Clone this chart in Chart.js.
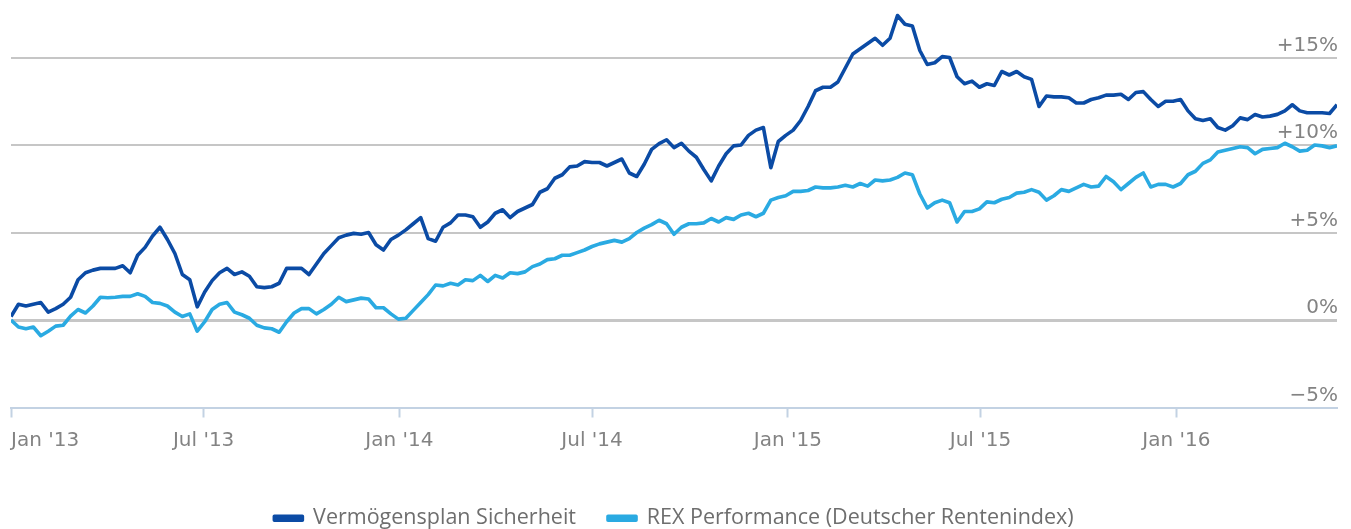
<!DOCTYPE html>
<html>
<head>
<meta charset="utf-8">
<script src="https://cdn.jsdelivr.net/npm/chart.js@4.4.1/dist/chart.umd.min.js"></script>
<style>
	html, body { margin: 0; padding: 0; background: #fff; }
	#wrap { width: 1351px; height: 529px; position: relative; }
</style>
</head>
<body>
<div id="wrap"><canvas id="myChart"></canvas></div>
<script>
// Wochenwerte ab Start (Wertentwicklung in %)
const startDate = '2013-01-01';
const stepDays = 7;

const sicherheit = [
	0.2, 0.9, 0.8, 0.9, 1.0, 0.45, 0.65, 0.9, 1.3, 2.3,
	2.7, 2.85, 2.95, 2.95, 2.95, 3.1, 2.7, 3.7, 4.15, 4.8,
	5.3, 4.6, 3.8, 2.6, 2.3, 0.75, 1.6, 2.25, 2.7, 2.95,
	2.6, 2.75, 2.5, 1.9, 1.85, 1.9, 2.1, 2.95, 2.95, 2.95,
	2.6, 3.2, 3.8, 4.25, 4.7, 4.85, 4.95, 4.9, 5.0, 4.3,
	4.0, 4.6, 4.85, 5.15, 5.5, 5.85, 4.65, 4.5, 5.3, 5.55,
	6.0, 6.0, 5.9, 5.3, 5.6, 6.1, 6.3, 5.85, 6.2, 6.4,
	6.6, 7.3, 7.5, 8.1, 8.3, 8.75, 8.8, 9.05, 9.0, 9.0,
	8.8, 9.0, 9.2, 8.4, 8.2, 8.9, 9.75, 10.08, 10.3, 9.85,
	10.1, 9.65, 9.3, 8.6, 7.95, 8.8, 9.5, 9.95, 10.0, 10.55,
	10.85, 11.0, 8.7, 10.2, 10.55, 10.85, 11.4, 12.2, 13.1, 13.3,
	13.3, 13.6, 14.4, 15.2, 15.5, 15.8, 16.1, 15.7, 16.1, 17.4,
	16.9, 16.8, 15.4, 14.6, 14.7, 15.05, 15.0, 13.9, 13.5, 13.65,
	13.3, 13.5, 13.4, 14.2, 14.0, 14.2, 13.9, 13.75, 12.2, 12.8,
	12.75, 12.75, 12.7, 12.4, 12.4, 12.6, 12.7, 12.85, 12.85, 12.9,
	12.6, 13.0, 13.05, 12.6, 12.2, 12.5, 12.5, 12.6, 11.95, 11.5,
	11.4, 11.5, 11.0, 10.85, 11.1, 11.55, 11.45, 11.74, 11.6, 11.65,
	11.75, 11.95, 12.3, 11.95, 11.84, 11.84, 11.84, 11.8, 12.3
];

const rex = [
	0.0, -0.4, -0.5, -0.4, -0.9, -0.64, -0.35, -0.3, 0.22, 0.6,
	0.4, 0.8, 1.3, 1.27, 1.3, 1.35, 1.35, 1.5, 1.35, 1.0,
	0.95, 0.8, 0.45, 0.2, 0.35, -0.64, -0.1, 0.6, 0.9, 1.0,
	0.45, 0.3, 0.1, -0.3, -0.45, -0.5, -0.7, -0.1, 0.4, 0.65,
	0.65, 0.35, 0.6, 0.9, 1.3, 1.05, 1.15, 1.25, 1.2, 0.7,
	0.7, 0.35, 0.05, 0.1, 0.55, 1.0, 1.45, 2.0, 1.95, 2.1,
	2.0, 2.3, 2.25, 2.55, 2.2, 2.55, 2.4, 2.7, 2.65, 2.75,
	3.05, 3.2, 3.45, 3.5, 3.7, 3.7, 3.85, 4.0, 4.2, 4.35,
	4.45, 4.55, 4.45, 4.65, 5.0, 5.25, 5.45, 5.7, 5.5, 4.9,
	5.3, 5.5, 5.5, 5.55, 5.8, 5.6, 5.85, 5.75, 6.0, 6.1,
	5.9, 6.1, 6.85, 7.0, 7.1, 7.35, 7.35, 7.4, 7.6, 7.55,
	7.55, 7.6, 7.7, 7.6, 7.8, 7.65, 8.0, 7.95, 8.0, 8.15,
	8.4, 8.3, 7.2, 6.4, 6.7, 6.85, 6.7, 5.6, 6.2, 6.2,
	6.35, 6.75, 6.7, 6.9, 7.0, 7.25, 7.3, 7.45, 7.3, 6.85,
	7.1, 7.45, 7.35, 7.55, 7.75, 7.6, 7.65, 8.2, 7.9, 7.45,
	7.8, 8.15, 8.4, 7.6, 7.75, 7.75, 7.6, 7.8, 8.3, 8.5,
	8.95, 9.15, 9.6, 9.7, 9.8, 9.9, 9.85, 9.5, 9.75, 9.8,
	9.85, 10.1, 9.9, 9.65, 9.7, 10.0, 9.95, 9.85, 9.95
];

const xTickDates = ['2013-01-01', '2013-07-01', '2014-01-01', '2014-07-01', '2015-01-01', '2015-07-01', '2016-01-01'];
const xTickLabels = ["Jan '13", "Jul '13", "Jan '14", "Jul '14", "Jan '15", "Jul '15", "Jan '16"];
const yTicks = [-5, 0, 5, 10, 15];
const yTickLabels = ['\u22125%', '0%', '+5%', '+10%', '+15%'];

const seriesNames = ['Vermögensplan Sicherheit', 'REX Performance (Deutscher Rentenindex)'];
const seriesColors = ['#0b4ba5', '#2aaae2'];

// Tage seit Startdatum
function dayOf(dateStr) {
	return (Date.parse(dateStr) - Date.parse(startDate)) / 86400000;
}

const xTickDays = xTickDates.map(dayOf);
const lastDay = (sicherheit.length - 1) * stepDays;

function toPoints(values) {
	return values.map((v, i) => ({ x: i * stepDays, y: v }));
}

const axisFont = { family: 'DejaVu Sans', size: 20 };

const ctx = document.getElementById('myChart').getContext('2d');
const myChart = new Chart(ctx, {
	type: 'line',
	data: {
		datasets: [
			{
				label: seriesNames[0],
				data: toPoints(sicherheit),
				borderColor: seriesColors[0],
				backgroundColor: seriesColors[0],
				borderWidth: 3.6,
				pointRadius: 0,
				tension: 0,
				borderJoinStyle: 'round',
			},
			{
				label: seriesNames[1],
				data: toPoints(rex),
				borderColor: seriesColors[1],
				backgroundColor: seriesColors[1],
				borderWidth: 3.6,
				pointRadius: 0,
				tension: 0,
				borderJoinStyle: 'round',
			},
		],
	},
	options: {
		responsive: true,
		maintainAspectRatio: false,
		animation: false,
		layout: { padding: { left: 11, right: 14, top: 5, bottom: -10 } },
		scales: {
			x: {
				type: 'linear',
				min: 0,
				max: lastDay,
				afterBuildTicks: (scale) => {
					const ticks = xTickDays.map((d) => ({ value: d }));
					// unsichtbarer Endtick, damit 'inner' nur das erste Label verschiebt
					ticks.push({ value: lastDay });
					scale.ticks = ticks;
				},
				afterFit: (scale) => {
					scale.height = 68;
				},
				border: { display: true, color: '#c3d2e3', width: 2 },
				grid: {
					drawOnChartArea: false,
					drawTicks: true,
					tickLength: 10,
					tickWidth: 2,
					tickColor: (c) => (c.index < xTickDays.length ? '#c3d2e3' : 'rgba(0,0,0,0)'),
				},
				ticks: {
					autoSkip: false,
					maxRotation: 0,
					align: 'inner',
					padding: 11,
					color: '#838383',
					font: axisFont,
					callback: (value, index) => (index < xTickLabels.length ? xTickLabels[index] : ''),
				},
			},
			y: {
				position: 'right',
				min: -5,
				max: 18,
				afterBuildTicks: (scale) => {
					scale.ticks = yTicks.map((v) => ({ value: v }));
				},
				afterFit: (scale) => {
					scale.width = 0;
					scale.paddingTop = 0;
					scale.paddingBottom = 0;
				},
				border: { display: false },
				grid: {
					drawTicks: false,
					color: (c) => (c.tick.value === -5 ? 'rgba(0,0,0,0)' : '#c6c6c6'),
					lineWidth: (c) => (c.tick.value === 0 ? 3 : 2),
				},
				ticks: {
					mirror: true,
					padding: 1,
					labelOffset: -12,
					color: '#838383',
					font: axisFont,
					callback: (value, index) => yTickLabels[index],
				},
			},
		},
		plugins: {
			legend: {
				position: 'bottom',
				labels: {
					boxWidth: 28,
					boxHeight: 4,
					padding: 32,
					color: '#6e6e6e',
					font: { family: 'Open Sans', size: 21.5 },
				},
			},
			tooltip: { enabled: false },
		},
	},
});
</script>
</body>
</html>
